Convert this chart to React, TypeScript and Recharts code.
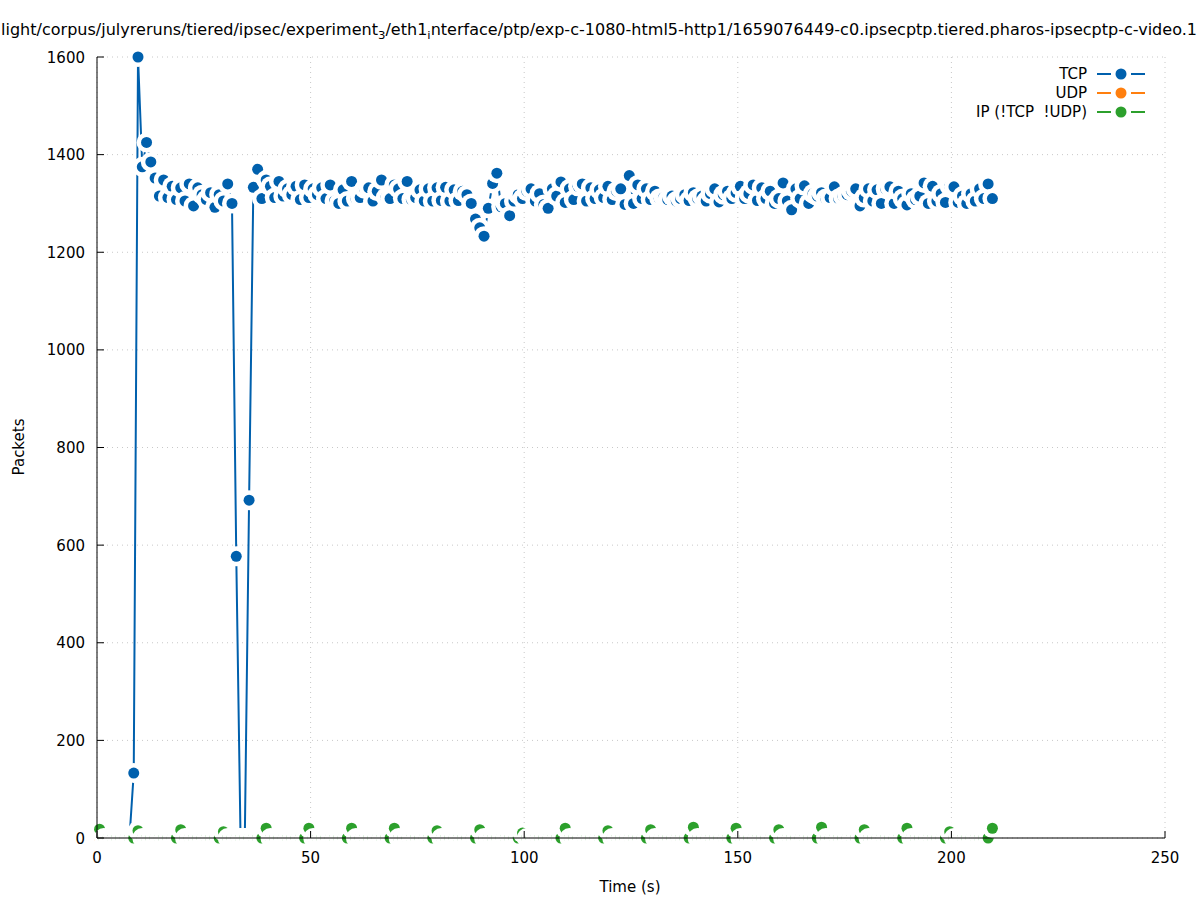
import { LineChart, Line, XAxis, YAxis, CartesianGrid } from "recharts";

// ─── Data ────────────────────────────────────────────────
// one sample per second, first one at 0.6 s
const FIRST_SAMPLE_S = 0.6;

const TCP_PACKETS = [
  0, 0, 0, 0, 0, 0, 0, 0, 133, 1600,
  1375, 1425, 1385, 1352, 1315, 1348, 1312, 1335, 1308, 1332,
  1305, 1340, 1295, 1332, 1318, 1308, 1322, 1292, 1318, 1305,
  1340, 1300, 577, 0, 0, 692, 1333, 1370, 1310, 1348,
  1335, 1312, 1345, 1315, 1330, 1318, 1335, 1308, 1338, 1312,
  1330, 1318, 1332, 1310, 1338, 1305, 1300, 1328, 1305, 1345,
  1310, 1312, 1330, 1332, 1305, 1325, 1348, 1312, 1310, 1338,
  1330, 1310, 1345, 1308, 1312, 1328, 1305, 1330, 1305, 1332,
  1306, 1333, 1305, 1328, 1306, 1325, 1318, 1300, 1268, 1250,
  1233, 1290, 1341, 1362, 1293, 1300, 1275, 1305, 1318, 1310,
  1325, 1330, 1305, 1320, 1298, 1290, 1330, 1315, 1344, 1302,
  1330, 1308, 1335, 1340, 1305, 1332, 1310, 1328, 1312, 1335,
  1308, 1325, 1330, 1298, 1357, 1300, 1338, 1310, 1330, 1308,
  1325, 1310, 1312, 1308, 1315, 1305, 1310, 1318, 1306, 1322,
  1310, 1315, 1305, 1320, 1330, 1303, 1318, 1325, 1310, 1322,
  1335, 1310, 1320, 1338, 1306, 1332, 1310, 1325, 1300, 1310,
  1342, 1305, 1287, 1330, 1310, 1336, 1300, 1320, 1315, 1322,
  1310, 1312, 1334, 1310, 1315, 1318, 1325, 1330, 1295, 1312,
  1330, 1305, 1328, 1300, 1330, 1334, 1300, 1325, 1310, 1297,
  1320, 1308, 1315, 1342, 1300, 1335, 1305, 1320, 1302, 1335,
  1334, 1302, 1315, 1300, 1320, 1305, 1330, 1310, 1340, 1310,
];

// only the very first sample carries a UDP value
const UDP_PACKETS = [0];

const IP_PACKETS = [
  18, 0, 0, 0, 0, 0, 0, 0, 0, 15,
  0, 0, 0, 0, 0, 0, 0, 0, 0, 17,
  0, 0, 0, 0, 0, 0, 0, 0, 0, 13,
  0, 0, 0, 0, 0, 0, 0, 0, 0, 20,
  0, 0, 0, 0, 0, 0, 0, 0, 0, 20,
  0, 0, 0, 0, 0, 0, 0, 0, 0, 20,
  0, 0, 0, 0, 0, 0, 0, 0, 0, 20,
  0, 0, 0, 0, 0, 0, 0, 0, 0, 15,
  0, 0, 0, 0, 0, 0, 0, 0, 0, 17,
  0, 0, 0, 0, 0, 0, 0, 0, 0, 10,
  0, 0, 0, 0, 0, 0, 0, 0, 0, 20,
  0, 0, 0, 0, 0, 0, 0, 0, 0, 15,
  0, 0, 0, 0, 0, 0, 0, 0, 0, 17,
  0, 0, 0, 0, 0, 0, 0, 0, 0, 22,
  0, 0, 0, 0, 0, 0, 0, 0, 0, 20,
  0, 0, 0, 0, 0, 0, 0, 0, 0, 17,
  0, 0, 0, 0, 0, 0, 0, 0, 0, 22,
  0, 0, 0, 0, 0, 0, 0, 0, 0, 17,
  0, 0, 0, 0, 0, 0, 0, 0, 0, 20,
  0, 0, 0, 0, 0, 0, 0, 0, 0, 13,
  0, 0, 0, 0, 0, 0, 0, 0, 0, 20,
];

const X_TICKS = [0, 50, 100, 150, 200, 250];
const Y_TICKS = [0, 200, 400, 600, 800, 1000, 1200, 1400, 1600];

const SERIES = [
  { key: "tcp", name: "TCP", color: "#0060ad" },
  { key: "udp", name: "UDP", color: "#ff7f0e" },
  { key: "ip", name: "IP (!TCP\u00a0\u00a0!UDP)", color: "#2ca02c" },
];

const data = TCP_PACKETS.map((tcp, i) => ({
  time: FIRST_SAMPLE_S + i,
  tcp,
  udp: UDP_PACKETS[i],
  ip: IP_PACKETS[i],
}));

// ─── Styling ─────────────────────────────────────────────
const W = 1197;
const H = 900;
const FONT = "'DejaVu Sans', sans-serif";
const FONT_SIZE = 15;
const DOT_R = 5.5;
const BLANK_R = 10; // white box around each point, like gnuplot's pointinterval
const TICK_LEN = 7;
// plot frame (chart margins + axis sizes below)
const PLOT = { left: 97, right: 1165, top: 57, bottom: 838 };

// each point blanks out the line (and earlier points) around it
const makeDot = (color: string) => (props: any) => {
  const { cx, cy, index } = props;
  if (cx == null || cy == null || props.value == null) return <g key={`${color}-${index}`} />;
  return (
    <g key={`${color}-${index}`}>
      <circle cx={cx} cy={cy} r={BLANK_R} fill="#fff" />
      <circle cx={cx} cy={cy} r={DOT_R} fill={color} />
    </g>
  );
};

// ─── Ticks ───────────────────────────────────────────────
function BottomTick({ x, y, payload }: any) {
  return (
    <g>
      <line x1={x} y1={y} x2={x} y2={y - TICK_LEN} stroke="#000" />
      <text x={x} y={y + 25} textAnchor="middle" fontFamily={FONT} fontSize={FONT_SIZE} fill="#000">
        {payload.value}
      </text>
    </g>
  );
}

function LeftTick({ x, y, payload }: any) {
  return (
    <g>
      <line x1={x} y1={y} x2={x + TICK_LEN} y2={y} stroke="#000" />
      <text x={x - 12} y={y + 5.5} textAnchor="end" fontFamily={FONT} fontSize={FONT_SIZE} fill="#000">
        {payload.value}
      </text>
    </g>
  );
}

function TopTick({ x, y }: any) {
  return <line x1={x} y1={y} x2={x} y2={y + TICK_LEN} stroke="#000" />;
}

function RightTick({ x, y }: any) {
  return <line x1={x} y1={y} x2={x - TICK_LEN} y2={y} stroke="#000" />;
}

// ─── Title, axis labels, border, key (drawn above the points) ───
function Overlay() {
  return (
    <svg
      width={W}
      height={H}
      style={{ position: "absolute", left: 0, top: 0, pointerEvents: "none" }}
      fontFamily={FONT}
      fontSize={FONT_SIZE}
      fill="#000"
    >
      <line x1={PLOT.left} y1={PLOT.bottom} x2={PLOT.right} y2={PLOT.bottom} stroke="#000" />
      <line x1={PLOT.left} y1={PLOT.top} x2={PLOT.left} y2={PLOT.bottom} stroke="#000" />
      <text x={1} y={35} textLength={1196} lengthAdjust="spacingAndGlyphs">
        light/corpus/julyreruns/tiered/ipsec/experiment
        <tspan fontSize={11} dy={4}>3</tspan>
        <tspan dy={-4}>/eth1</tspan>
        <tspan fontSize={11} dy={4}>i</tspan>
        <tspan dy={-4}>nterface/ptp/exp-c-1080-html5-http1/1659076449-c0.ipsecptp.tiered.pharos-ipsecptp-c-video.1</tspan>
      </text>
      <text x={630} y={892} textAnchor="middle">
        Time (s)
      </text>
      <text transform="translate(24,447) rotate(-90)" textAnchor="middle">
        Packets
      </text>
      {SERIES.map((s, i) => {
        const cy = 74 + i * 19;
        return (
          <g key={s.key}>
            <text x={1087} y={cy + 5} textAnchor="end">
              {s.name}
            </text>
            <line x1={1097} y1={cy} x2={1111} y2={cy} stroke={s.color} strokeWidth={2} />
            <line x1={1131} y1={cy} x2={1145} y2={cy} stroke={s.color} strokeWidth={2} />
            <circle cx={1121} cy={cy} r={DOT_R} fill={s.color} />
          </g>
        );
      })}
    </svg>
  );
}

// ─── Component ───────────────────────────────────────────
export default function App() {
  return (
    <div style={{ position: "absolute", left: 0, top: 0, width: W, height: H, background: "#fff" }}>
      <LineChart
        width={W}
        height={H}
        data={data}
        margin={{ top: 57, right: 32, left: 37, bottom: 22 }}
      >
        <CartesianGrid stroke="#c8c8c8" strokeDasharray="1 4" />
        {SERIES.map((s) => (
          <Line
            key={s.key}
            dataKey={s.key}
            name={s.name}
            stroke={s.color}
            strokeWidth={2}
            dot={makeDot(s.color)}
            activeDot={false}
            isAnimationActive={false}
            type="linear"
          />
        ))}
        <XAxis
          dataKey="time"
          type="number"
          domain={[0, 250]}
          ticks={X_TICKS}
          interval={0}
          height={40}
          tickSize={0}
          tickMargin={0}
          tick={<BottomTick />}
          axisLine={false}
        />
        <XAxis
          xAxisId="top"
          orientation="top"
          type="number"
          domain={[0, 250]}
          allowDataOverflow
          ticks={X_TICKS}
          interval={0}
          height={0}
          tickSize={0}
          tickMargin={0}
          tick={<TopTick />}
          axisLine={false}
        />
        <YAxis
          type="number"
          domain={[0, 1600]}
          ticks={Y_TICKS}
          interval={0}
          width={60}
          tickSize={0}
          tickMargin={0}
          tick={<LeftTick />}
          axisLine={false}
        />
        <YAxis
          yAxisId="right"
          orientation="right"
          type="number"
          domain={[0, 1600]}
          allowDataOverflow
          ticks={Y_TICKS}
          interval={0}
          width={0}
          tickSize={0}
          tickMargin={0}
          tick={<RightTick />}
          axisLine={false}
        />
      </LineChart>
      <Overlay />
    </div>
  );
}
